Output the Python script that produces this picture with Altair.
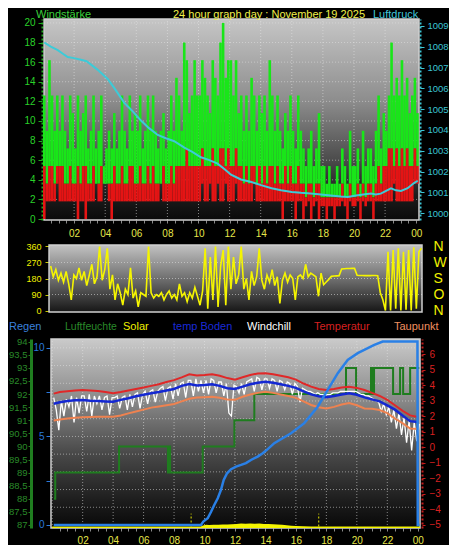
import altair as alt
import pandas as pd

# ---------------- values ----------------
# wind (km/h), 10-minute blocks starting 00:00
wind_gust = [
    12.6, 9, 16.2, 12.6, 9, 12.6,
    9, 12.6, 9, 7.2, 12.6, 10.8,
    7.2, 12.6, 9, 10.8, 12.6, 7.2,
    9, 12.6, 7.2, 9, 12.6, 5.4,
    7.2, 9, 7.2, 10.8, 7.2, 9,
    12.6, 9, 7.2, 12.6, 9, 10.8,
    9, 12.6, 7.2, 9, 12.6, 9,
    12.6, 9, 7.2, 9, 10.8, 7.2,
    9, 12.6, 9, 14.4, 12.6, 9,
    18, 16.2, 10.8, 12.6, 16.2, 12.6,
    12.6, 16.2, 14.4, 12.6, 10.8, 16.2,
    14.4, 12.6, 18, 20, 14.4, 16.2,
    16.2, 12.6, 16.2, 10.8, 12.6, 9,
    12.6, 9, 14.4, 12.6, 9, 12.6,
    10.8, 12.6, 9, 16.2, 12.6, 9,
    12.6, 9, 7.2, 10.8, 9, 12.6,
    9, 7.2, 12.6, 9, 7.2, 5.4,
    7.2, 9, 5.4, 7.2, 10.8, 5.4,
    5.4, 3.6, 5.4, 3.6, 3.6, 5.4,
    3.6, 7.2, 5.4, 3.6, 9, 5.4,
    5.4, 7.2, 3.6, 9, 5.4, 7.2,
    7.2, 5.4, 9, 12.6, 7.2, 10.8,
    9, 12.6, 18, 12.6, 14.4, 12.6,
    16.2, 12.6, 14.4, 10.8, 12.6, 14.4,
    10.8]
wind_avg = [
    5.4, 3.6, 5.4, 5.4, 3.6, 5.4,
    5.4, 5.4, 3.6, 3.6, 5.4, 3.6,
    3.6, 5.4, 3.6, 5.4, 5.4, 3.6,
    3.6, 5.4, 3.6, 3.6, 5.4, 3.6,
    3.6, 3.6, 3.6, 5.4, 3.6, 3.6,
    5.4, 3.6, 3.6, 5.4, 5.4, 3.6,
    3.6, 5.4, 3.6, 3.6, 5.4, 3.6,
    5.4, 3.6, 3.6, 3.6, 5.4, 3.6,
    3.6, 5.4, 3.6, 5.4, 5.4, 5.4,
    5.4, 7.2, 5.4, 5.4, 5.4, 5.4,
    5.4, 7.2, 5.4, 5.4, 5.4, 7.2,
    5.4, 5.4, 7.2, 7.2, 5.4, 7.2,
    5.4, 5.4, 7.2, 5.4, 5.4, 3.6,
    5.4, 3.6, 5.4, 5.4, 3.6, 5.4,
    3.6, 5.4, 3.6, 5.4, 5.4, 3.6,
    5.4, 3.6, 3.6, 5.4, 3.6, 5.4,
    3.6, 3.6, 5.4, 3.6, 3.6, 2.2,
    3.6, 3.6, 2.2, 3.6, 3.6, 2.2,
    2.2, 2.2, 2.2, 2.2, 2.2, 2.2,
    2.2, 3.6, 2.2, 2.2, 3.6, 2.2,
    2.2, 3.6, 2.2, 3.6, 2.2, 3.6,
    3.6, 2.2, 3.6, 5.4, 3.6, 5.4,
    5.4, 7.2, 7.2, 5.4, 7.2, 5.4,
    7.2, 5.4, 7.2, 5.4, 5.4, 7.2,
    5.4]
wind_low = [
    0, 1.8, 1.8, 1.8, 1.8, 3.6,
    1.8, 1.8, 1.8, 1.8, 1.8, 1.8,
    1.8, 0, 1.8, 1.8, 0, 1.8,
    1.8, 1.8, 3.6, 1.8, 1.8, 3.6,
    3.6, 1.8, 0, 1.8, 1.8, 1.8,
    1.8, 1.8, 1.8, 1.8, 1.8, 1.8,
    1.8, 1.8, 1.8, 1.8, 1.8, 1.8,
    1.8, 1.8, 1.8, 3.6, 1.8, 1.8,
    1.8, 1.8, 1.8, 1.8, 1.8, 1.8,
    1.8, 1.8, 1.8, 1.8, 1.8, 1.8,
    1.8, 3.6, 1.8, 1.8, 3.6, 1.8,
    1.8, 3.6, 1.8, 1.8, 3.6, 1.8,
    1.8, 1.8, 3.6, 1.8, 1.8, 1.8,
    1.8, 1.8, 1.8, 3.6, 1.8, 1.8,
    1.8, 1.8, 1.8, 1.8, 1.8, 1.8,
    1.8, 1.8, 0, 1.8, 1.8, 1.8,
    1.8, 0, 1.8, 1.8, 0, 1.3,
    1.8, 0, 1.3, 1.8, 0, 1.3,
    1.3, 0, 1.3, 1.3, 0, 1.3,
    1.3, 1.8, 1.3, 0, 1.8, 1.3,
    1.3, 1.8, 0, 1.8, 1.3, 1.8,
    1.8, 0, 1.8, 1.8, 1.8, 1.8,
    1.8, 1.8, 1.8, 3.6, 1.8, 1.8,
    1.8, 1.8, 1.8, 1.8, 1.8, 3.6,
    3.6]

# air pressure (hPa)
press_hour = [0.08, 0.5, 0.95, 1.3, 1.59, 2.0, 2.44, 2.8, 3.09, 3.5, 4.16, 4.6, 5.23, 5.7,
              6.3, 6.8, 7.38, 7.9, 8.44, 9.09, 9.6, 10.16, 10.7, 11.23, 11.7, 12.09, 12.73,
              13.4, 14.02, 14.7, 15.31, 16.0, 16.59, 17.2, 17.88, 18.5, 19.16, 19.6, 20.13,
              20.6, 21.09, 21.4, 21.72, 22.0, 22.38, 22.7, 23.02, 23.45, 23.86, 24.1]
press_hpa = [1008.2, 1008.0, 1007.83, 1007.65, 1007.5, 1007.45, 1007.37, 1007.3, 1007.14,
             1006.9, 1006.45, 1006.0, 1005.3, 1004.95, 1004.45, 1004.1, 1003.76, 1003.6,
             1003.46, 1003.15, 1002.95, 1002.69, 1002.55, 1002.38, 1002.1, 1001.85, 1001.62,
             1001.5, 1001.35, 1001.2, 1001.1, 1001.02, 1000.98, 1000.95, 1000.9, 1000.85,
             1000.8, 1000.78, 1000.85, 1000.9, 1000.95, 1000.9, 1000.94, 1001.05, 1001.2,
             1001.1, 1001.07, 1001.2, 1001.45, 1001.56]

# wind direction (degrees), 10-minute samples
wind_dir = [
    250, 190, 230, 170, 210, 160,
    220, 150, 60, 200, 180, 240,
    170, 220, 140, 200, 260, 150,
    190, 360, 170, 230, 350, 120,
    200, 60, 150, 100, 30, 120,
    90, 240, 70, 110, 20, 100,
    90, 80, 360, 100, 70, 90,
    80, 100, 60, 90, 110, 70,
    90, 60, 150, 80, 100, 50,
    100, 70, 130, 80, 30, 110,
    350, 10, 300, 60, 360, 20,
    250, 340, 30, 360, 120, 300,
    150, 200, 360, 120, 180, 60,
    220, 140, 190, 350, 170, 120,
    200, 160, 230, 140, 190, 40,
    170, 210, 160, 200, 180, 60,
    190, 200, 180, 260, 190, 210,
    200, 190, 80, 210, 145, 160,
    175, 192, 194, 195, 196, 234,
    235, 236, 236, 237, 237, 198,
    197, 197, 196, 197, 196, 197,
    197, 196, 100, 60, 0, 330,
    0, 340, 10, 350, 0, 330,
    5, 340, 0, 355, 10, 330,
    350]

# humidity (%), change points
hum_hour = [0.12, 0.2, 4.39, 7.6, 7.68, 7.74, 9.88, 11.96, 13.27, 19.29, 19.95, 20.93,
            20.98, 21.03, 21.08, 21.13, 22.38, 22.84, 23.04, 23.5, 24.1]
hum_pct = [88, 89, 90, 89, 90, 89, 90, 91, 92, 93, 92, 93, 92, 93, 92, 93, 92, 93, 92, 93, 93]

# rain (mm)
rain_hour = [0.1, 9.77, 9.92, 10.21, 10.43, 10.64, 10.87, 11.08, 11.26, 11.48, 11.74, 12.07,
             12.4, 12.72, 13.05, 13.49, 13.82, 14.15, 14.58, 15.68, 16.55, 17.43, 18.09,
             18.75, 19.4, 20.06, 20.72, 21.15, 21.7, 23.98, 24.0, 24.12]
rain_mm = [0, 0, 0.19, 0.38, 0.75, 1.13, 1.51, 1.98, 2.54, 2.92, 3.15, 3.3, 3.39, 3.49, 3.67,
           3.86, 4.05, 4.28, 4.62, 5.18, 5.75, 6.68, 7.63, 8.57, 9.32, 9.7, 9.98, 10.17,
           10.36, 10.36, 0, 0]

# temperature, soil temperature, dew point (°C), half-hour samples
temp_hour = [0.1, 0.5, 1, 1.5, 2, 2.5, 3, 3.5, 4, 4.5, 5, 5.5, 6, 6.5, 7, 7.5, 8, 8.5, 9, 9.5,
             10, 10.5, 11, 11.5, 12, 12.5, 13, 13.5, 14, 14.5, 15, 15.5, 16, 16.5, 17, 17.5,
             18, 18.5, 19, 19.5, 20, 20.5, 21, 21.5, 22, 22.5, 23, 23.5, 24]
temp_c = [3.45, 3.55, 3.6, 3.65, 3.68, 3.65, 3.62, 3.55, 3.47, 3.55, 3.65, 3.75, 3.85, 3.95,
          4.05, 4.2, 4.32, 4.5, 4.7, 4.62, 4.65, 4.7, 4.6, 4.45, 4.35, 4.5, 4.65, 4.75, 4.76,
          4.7, 4.6, 4.5, 4.35, 4.1, 3.9, 3.75, 3.68, 3.75, 3.85, 3.9, 3.82, 3.68, 3.5, 3.3,
          3.05, 2.7, 2.35, 2.05, 1.95]
boden_c = [2.8, 2.9, 2.98, 3.02, 3.04, 3.0, 2.98, 2.95, 2.93, 3.05, 3.15, 3.28, 3.38, 3.48,
           3.55, 3.65, 3.75, 3.95, 4.07, 3.98, 4.0, 4.05, 3.95, 3.8, 3.75, 3.9, 4.05, 4.15,
           4.22, 4.15, 4.05, 3.95, 3.82, 3.6, 3.4, 3.28, 3.22, 3.3, 3.4, 3.47, 3.38, 3.21,
           3.08, 2.95, 2.7, 2.42, 2.05, 1.68, 1.62]
dew_c = [1.72, 1.78, 1.85, 1.9, 1.93, 1.95, 1.97, 1.96, 1.96, 2.05, 2.18, 2.3, 2.42, 2.55,
         2.62, 2.7, 2.78, 2.95, 3.12, 3.2, 3.22, 3.25, 3.18, 3.08, 3.05, 3.25, 3.4, 3.5,
         3.57, 3.5, 3.4, 3.3, 3.18, 2.95, 2.72, 2.58, 2.5, 2.6, 2.75, 2.85, 2.7, 2.5, 2.48,
         2.4, 2.2, 1.85, 1.55, 1.2, 1.18]

# wind chill (°C), 10-minute samples
chill_c = [
    3.2, 2.4, 1.1, 3.0, 2.0, 3.1,
    2.6, 3.3, 1.6, 3.2, 2.2, 3.3,
    3.3, 2.3, 3.4, 2.0, 3.3, 2.8,
    3.3, 2.4, 3.2, 3.3, 2.1, 3.2,
    3.2, 3.3, 2.5, 3.2, 3.3, 2.4,
    3.4, 2.6, 3.4, 3.5, 2.5, 3.4,
    3.6, 2.8, 3.6, 3.7, 2.9, 3.6,
    3.8, 3.9, 3.0, 3.8, 3.9, 3.1,
    4.1, 3.3, 4.1, 4.2, 3.2, 4.3,
    4.3, 3.3, 4.4, 3.6, 4.3, 3.5,
    4.3, 3.4, 4.4, 4.3, 3.5, 4.2,
    4.2, 3.3, 4.1, 2.2, 2.0, 4.0,
    3.9, 3.5, 4.1, 3.4, 4.2, 4.3,
    4.4, 3.6, 4.5, 4.4, 3.7, 4.4,
    4.4, 3.8, 4.4, 4.3, 3.6, 4.3,
    4.2, 3.7, 4.2, 4.1, 3.4, 4.1,
    3.9, 2.9, 3.8, 3.7, 3.6, 3.6,
    3.5, 3.4, 3.5, 3.4, 3.4, 3.4,
    3.4, 3.4, 3.5, 3.5, 3.5, 3.6,
    3.6, 3.6, 3.6, 3.6, 3.6, 3.6,
    3.5, 3.4, 3.4, 3.3, 3.3, 3.2,
    3.1, 3.0, 2.9, 2.3, 2.8, 2.1,
    2.6, 1.6, 2.4, 1.2, 2.2, 0.8,
    1.9, 0.3, 1.7, -0.2, 1.6, 0.4,
    1.5]

# solar radiation (W/m2)
solar_hour = [0.0, 9.75, 9.9, 10.1, 10.3, 10.6, 10.9, 11.2, 11.5, 11.8, 12.1, 12.4, 12.7, 13.0,
              13.3, 13.6, 13.9, 14.2, 14.5, 14.8, 15.1, 15.4, 15.7, 16.0, 16.5, 17.0, 17.4, 24.15]
solar_wm2 = [0, 0, 8, 14, 12, 16, 14, 18, 17, 20, 22, 25, 24, 26, 23, 25, 21, 22, 19, 17, 14,
             10, 7, 4, 2, 1, 0, 0]
sun_hour = [9.12, 17.5]   # sunrise / sunset markers

grid_hours = [0, 2, 4, 6, 8, 10, 12, 14, 16, 18, 20, 22]
wind_grid = [2, 4, 6, 8, 10, 12, 14, 16, 18, 20]
dir_grid = [90, 180, 270]
rain_grid = [1, 2, 3, 4, 5, 6, 7, 8, 9, 10]
tick_hours = [k / 2 for k in range(1, 49)]

header = ["Windstärke", "24 hour graph day : November 19 2025", "Luftdruck"]
legend = ["Regen", "Luftfeuchte", "Solar", "temp Boden", "Windchill", "Temperatur", "Taupunkt"]

# ---------------- tables ----------------
n = len(wind_gust)
wind_df = pd.DataFrame({"t0": [i / 6 for i in range(n)], "t1": [(i + 1) / 6 for i in range(n)],
                        "g": wind_gust, "a": wind_avg, "l": wind_low})
press_df = pd.DataFrame({"t": press_hour, "p": press_hpa})
dir_df = pd.DataFrame({"t": [(i + 1) / 6 for i in range(len(wind_dir))], "d": wind_dir})
hum_df = pd.DataFrame({"t": hum_hour, "v": hum_pct})
rain_df = pd.DataFrame({"t": rain_hour, "v": rain_mm})
temp_df = pd.DataFrame({"t": temp_hour, "temp": temp_c, "boden": boden_c, "dew": dew_c})
chill_df = pd.DataFrame({"t": [0.1 + i / 6 for i in range(len(chill_c))], "v": chill_c})
solar_df = pd.DataFrame({"t": solar_hour, "v": solar_wm2})
sun_df = pd.DataFrame({"t": sun_hour})
one = pd.DataFrame({"k": [0]})

# ---------------- scales ----------------
W, H = 378, 520
FONT = "Liberation Sans"


def lin(domain, rng):
    return alt.Scale(domain=domain, range=rng, nice=False, zero=False)


TX = lin([0, 24.2], [-1, 375.3])
WY = lin([-0.1, 20.4], [212, 11])
PY = lin([999.675, 1009.33], [212, 11])
MX = lin([0, 24.2], [4.1, 378])
DY = lin([-8.4, 368.4], [304, 237])
BX = lin([0, 24.2], [8.2, 376.8])
RY = lin([-0.17, 10.5], [520, 331])
HY = lin([86.885, 94.103], [520, 331])
CY = lin([-5.193, 6.965], [520, 331])
SY = lin([-12.8, 1600], [520, 331])


def ax(**kw):
    base = dict(title=None, grid=False, labelFont=FONT, labelFontSize=10,
                labelOverlap=False, labelFlush=False)
    base.update(kw)
    return alt.Axis(**base)


HOUR_LABEL = ("datum.value % 2 == 0 ? (((datum.value % 24) < 10) ? '0' : '') + "
              "(datum.value % 24) : ''")


def grad(stops):
    return alt.Gradient(gradient="linear", x1=0, x2=0, y1=0, y2=1,
                        stops=[alt.GradientStop(offset=o, color=c) for o, c in stops])


GRID = dict(color="#e6e6e6", strokeDash=[1, 2], strokeWidth=1, opacity=0.55)

# ---------------- top panel ----------------
bg_top = alt.Chart(one).mark_rect(
    fill=grad([(0, "#c6c6c6"), (0.4, "#8e8e8e"), (0.7, "#4c4c4c"), (0.88, "#1c1c1c"), (1, "#0a0a0a")]),
    stroke="#cfcfcf", strokeWidth=1.5
).encode(x=alt.XDatum(0.07, scale=TX, axis=None), x2=alt.X2Datum(24.18),
         y=alt.YDatum(-0.1, scale=WY, axis=None), y2=alt.Y2Datum(20.4))

gv_top = alt.Chart(pd.DataFrame({"h": grid_hours[1:]})).mark_rule(**GRID).encode(
    x=alt.X("h:Q", scale=TX, axis=None),
    y=alt.YDatum(-0.1, scale=WY, axis=None), y2=alt.Y2Datum(20.4))
gh_top = alt.Chart(pd.DataFrame({"w": wind_grid})).mark_rule(**GRID).encode(
    y=alt.Y("w:Q", scale=WY, axis=None),
    x=alt.XDatum(0.07, scale=TX, axis=None), x2=alt.X2Datum(24.18))

gust_bars = alt.Chart(wind_df).mark_rect(color="#19e619").encode(
    x=alt.X("t0:Q", scale=TX, axis=ax(orient="bottom", offset=212 - H, values=tick_hours,
                                       labelExpr=HOUR_LABEL, labelColor="#e6e64a", domain=False,
                                       tickColor="#8a8a8a", tickSize=3, labelPadding=5)),
    x2="t1:Q",
    y=alt.Y("a:Q", scale=WY, axis=ax(orient="left", offset=2, values=list(range(0, 21, 2)),
                                     labelColor="#2ad22a", tickColor="#1fa81f", tickSize=4,
                                     domainColor="#1fa81f", domainDash=[2, 2], domainWidth=2,
                                     labelPadding=3)),
    y2="g:Q")
avg_bars = alt.Chart(wind_df).mark_rect(color="#e41414").encode(
    x=alt.X("t0:Q", scale=TX, axis=None), x2="t1:Q",
    y=alt.Y("l:Q", scale=WY, axis=None), y2="a:Q")
press_line = alt.Chart(press_df).mark_line(color="#3ccbd8", strokeWidth=2).encode(
    x=alt.X("t:Q", scale=TX, axis=None),
    y=alt.Y("p:Q", scale=PY, axis=ax(orient="right", offset=-2, values=list(range(1000, 1010)),
                                     format="d", labelFontSize=9.5,
                                     labelColor="#3cc4d4", tickColor="#3cc4d4", tickSize=4,
                                     domainColor="#3cc4d4", domainDash=[2, 2], domainWidth=2,
                                     labelPadding=3)))

# ---------------- middle panel ----------------
bg_mid = alt.Chart(one).mark_rect(
    fill=grad([(0, "#c2c2c2"), (0.5, "#707070"), (1, "#161616")]),
    stroke="#cfcfcf", strokeWidth=1.5
).encode(x=alt.XDatum(0.06, scale=MX, axis=None), x2=alt.X2Datum(24.2),
         y=alt.YDatum(-8.4, scale=DY, axis=None), y2=alt.Y2Datum(368.4))
gh_mid = alt.Chart(pd.DataFrame({"v": dir_grid})).mark_rule(**GRID).encode(
    y=alt.Y("v:Q", scale=DY, axis=ax(orient="right", offset=0, values=[0, 90, 180, 270, 360],
                                     labelExpr="datum.value == 90 ? 'O' : datum.value == 180 ? 'S' : "
                                               "datum.value == 270 ? 'W' : 'N'",
                                     labelColor="#f0f000", labelFontSize=14, tickSize=0,
                                     domain=False, labelPadding=11)),
    x=alt.XDatum(0.06, scale=MX, axis=None), x2=alt.X2Datum(24.2))
dir_line = alt.Chart(dir_df).mark_line(color="#f5f500", strokeWidth=1.6).encode(
    x=alt.X("t:Q", scale=MX, axis=None),
    y=alt.Y("d:Q", scale=DY, axis=ax(orient="left", offset=-5, values=[0, 90, 180, 270, 360],
                                     labelColor="#f0f000", labelFontSize=9, tickColor="#c8c800",
                                     tickSize=4, domain=False, labelPadding=4)))

# ---------------- bottom panel ----------------
bg_bot = alt.Chart(one).mark_rect(
    fill=grad([(0, "#cacaca"), (0.32, "#8a8a8a"), (0.6, "#4a4a4a"), (0.85, "#1e1e1e"), (1, "#080808")]),
    stroke="#cfcfcf", strokeWidth=1.5
).encode(x=alt.XDatum(-0.08, scale=BX, axis=None), x2=alt.X2Datum(24.15),
         y=alt.YDatum(-0.17, scale=RY, axis=None), y2=alt.Y2Datum(10.5))
gv_bot = alt.Chart(pd.DataFrame({"h": grid_hours})).mark_rule(**GRID).encode(
    x=alt.X("h:Q", scale=BX, axis=None),
    y=alt.YDatum(-0.17, scale=RY, axis=None), y2=alt.Y2Datum(10.5))
gh_bot = alt.Chart(pd.DataFrame({"v": rain_grid})).mark_rule(**GRID).encode(
    y=alt.Y("v:Q", scale=RY, axis=None),
    x=alt.XDatum(-0.08, scale=BX, axis=None), x2=alt.X2Datum(24.15))

hum_line = alt.Chart(hum_df).mark_line(color="#1f7d1f", strokeWidth=2, interpolate="step-after").encode(
    x=alt.X("t:Q", scale=BX, axis=None),
    y=alt.Y("v:Q", scale=HY, axis=ax(orient="left", offset=13, values=[87 + k / 2 for k in range(15)],
                                     labelExpr="replace(format(datum.value, '.1~f'), '.', ',')",
                                     labelColor="#2a8a2a", labelFontSize=9.5, tickColor="#1f7d1f",
                                     tickSize=3, domainColor="#1f7d1f", domainWidth=3,
                                     labelPadding=1)))
chill_line = alt.Chart(chill_df).mark_line(color="#ffffff", strokeWidth=1.3).encode(
    x=alt.X("t:Q", scale=BX, axis=None), y=alt.Y("v:Q", scale=CY, axis=None))
dew_line = alt.Chart(temp_df).mark_line(color="#ee8250", strokeWidth=2).encode(
    x=alt.X("t:Q", scale=BX, axis=None), y=alt.Y("dew:Q", scale=CY, axis=None))
boden_line = alt.Chart(temp_df).mark_line(color="#1428d2", strokeWidth=2.5).encode(
    x=alt.X("t:Q", scale=BX, axis=None), y=alt.Y("boden:Q", scale=CY, axis=None))
temp_line = alt.Chart(temp_df).mark_line(color="#e02828", strokeWidth=2).encode(
    x=alt.X("t:Q", scale=BX, axis=None),
    y=alt.Y("temp:Q", scale=CY, axis=ax(orient="right", offset=0, values=list(range(-5, 7)),
                                        labelColor="#d82020", tickColor="#c81c1c", tickSize=3,
                                        domainColor="#c81c1c", domainDash=[2, 2], domainWidth=2,
                                        labelPadding=4)))
solar_area = alt.Chart(solar_df).mark_area(color="#f4f400", opacity=1).encode(
    x=alt.X("t:Q", scale=BX, axis=None),
    y=alt.Y("v:Q", scale=SY, axis=None), y2=alt.Y2Datum(-12.8))
sun_rules = alt.Chart(sun_df).mark_rule(color="#e8e800", strokeDash=[2, 2], strokeWidth=1).encode(
    x=alt.X("t:Q", scale=BX, axis=None),
    y=alt.YDatum(0, scale=SY, axis=None), y2=alt.Y2Datum(110))
rain_line = alt.Chart(rain_df).mark_line(color="#2a80e6", strokeWidth=2.5).encode(
    x=alt.X("t:Q", scale=BX, axis=ax(orient="bottom", offset=0, values=tick_hours,
                                     labelExpr=HOUR_LABEL, labelColor="#e6e64a", domain=False,
                                     tickColor="#8a8a8a", tickSize=3, labelPadding=4)),
    y=alt.Y("v:Q", scale=RY, axis=ax(orient="left", offset=-6, values=[0, 2.5, 5, 7.5, 10],
                                     labelExpr="datum.value % 5 == 0 ? datum.label : ''",
                                     labelColor="#2a78dc", tickColor="#2a78dc", tickSize=4,
                                     domain=False, labelPadding=2)))


# ---------------- texts ----------------
def label(txt, color, x, y, size=11):
    return alt.Chart(pd.DataFrame({"s": [txt]})).mark_text(
        align="left", baseline="alphabetic", font=FONT, fontSize=size, color=color
    ).encode(text="s:N", x=alt.value(x), y=alt.value(y))


texts = [
    label(header[0], "#3cd23c", -8, 10),
    label(header[1], "#f0f04a", 129, 10),
    label(header[2], "#40c8dc", 329, 10),
    label(legend[0], "#3a80dc", -35, 322),
    label(legend[1], "#2a8a2a", 21, 322, 10.5),
    label(legend[2], "#f0f000", 79, 322),
    label(legend[3], "#1a2ad8", 129, 322),
    label(legend[4], "#ffffff", 203, 322),
    label(legend[5], "#d82020", 270, 322),
    label(legend[6], "#f09060", 350, 322),
]

chart = alt.layer(
    bg_top, gv_top, gh_top, gust_bars, avg_bars, press_line,
    bg_mid, gh_mid, dir_line,
    bg_bot, gv_bot, gh_bot, hum_line, chill_line, dew_line, boden_line, temp_line,
    solar_area, sun_rules, rain_line,
    *texts
).resolve_scale(x="independent", y="independent").properties(
    width=W, height=H, padding=0, background="#000000"
).configure_view(stroke=None)

chart.save("out.html", embed_options={"renderer": "svg", "actions": False})
